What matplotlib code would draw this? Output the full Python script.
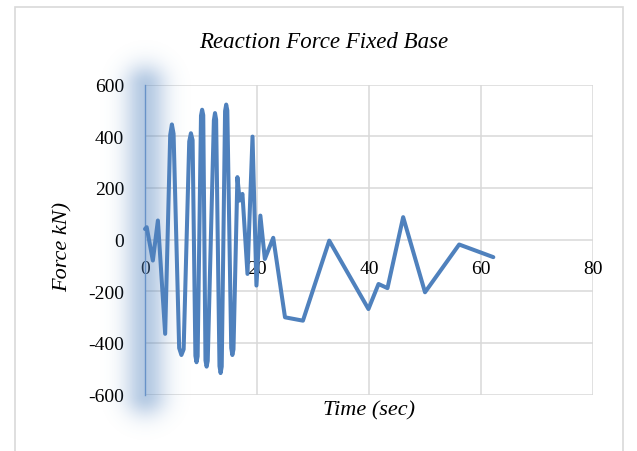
import matplotlib
matplotlib.use('Agg')
import matplotlib.pyplot as plt
import matplotlib.patches as mpatches
import numpy as np

# reaction force history, fixed base model
time_s = [0.0, 0.3, 1.4, 2.3, 3.6,
          4.5, 4.8, 5.1, 6.1, 6.5, 6.9,
          7.9, 8.2, 8.5, 9.0, 9.2, 9.4,
          10.0, 10.2, 10.4, 10.8, 11.0, 11.2,
          12.3, 12.5, 12.7, 13.3, 13.5, 13.7,
          14.3, 14.5, 14.7, 15.4, 15.6, 15.8,
          16.5, 16.9, 17.4, 18.3, 19.2, 19.9, 20.6, 21.4, 22.9,
          25.0, 28.2, 32.9, 39.9, 41.7, 43.3, 46.1, 50.0, 56.1, 62.2]
force_kn = [41, 48, -81, 74, -365,
            405, 446, 410, -420, -447, -425,
            380, 412, 385, -450, -475, -452,
            480, 503, 482, -468, -492, -470,
            462, 490, 465, -490, -517, -492,
            498, 523, 500, -420, -447, -425,
            242, 151, 177, -133, 399, -178, 93, -75, 7,
            -301, -314, -4, -269, -172, -188, 87, -204, -19, -68]

x_ticks = [0, 20, 40, 60, 80]
y_ticks = [-600, -400, -200, 0, 200, 400, 600]

W, H = 637, 452
plt.rcParams['font.family'] = 'Liberation Serif'
plt.rcParams['axes.unicode_minus'] = False
fig = plt.figure(figsize=(W / 100, H / 100), dpi=100)

# chart border
fig.patches.append(mpatches.Rectangle((15 / W, -0.05), (623 - 15) / W, 1.05 - 8 / H,
                                      transform=fig.transFigure, fill=False,
                                      edgecolor='#d9d9d9', linewidth=1.2))

ax_l, ax_r, ax_t, ax_b = 145, 593, 85.7, 395.5
ax = fig.add_axes([ax_l / W, 1 - ax_b / H, (ax_r - ax_l) / W, (ax_b - ax_t) / H])
ax.patch.set_alpha(0)
ax.set_xlim(0, 80)
ax.set_ylim(-600, 600)
ax.set_xticks(x_ticks)
ax.set_yticks(y_ticks)
ax.grid(True, color='#d9d9d9', linewidth=1.1)

for side in ['top', 'right', 'bottom']:
    ax.spines[side].set_visible(False)
ax.spines['left'].set_color('#7a9fd0')
ax.spines['left'].set_linewidth(1.0)

# x labels sit under the zero line
ax.spines['bottom'].set_position(('data', 0))
ax.tick_params(axis='x', length=0, pad=15, labelsize=14)
ax.tick_params(axis='y', length=0, pad=15, labelsize=14)

# soft glow along the vertical axis (pixel image behind the axes)
yy, xx = np.mgrid[0:H, 0:W]
dy = np.clip(yy, ax_t, ax_b) - yy
dist = np.hypot(xx - ax_l, dy)
glow = np.zeros((H, W, 4))
glow[..., 0], glow[..., 1], glow[..., 2] = 79 / 255, 129 / 255, 189 / 255
glow[..., 3] = 0.42 * np.exp(-(dist / 21.0) ** 2)
fig.figimage(glow, 0, 0, origin='upper', zorder=0)

ax.plot(time_s, force_kn, color='#4f81bd', linewidth=2.9, solid_joinstyle='round',
        solid_capstyle='round', zorder=3, clip_on=False)

fig.text(324 / W, 1 - 42 / H, 'Reaction Force Fixed Base', ha='center', va='center',
         fontsize=16.5, style='italic')
fig.text(369 / W, 1 - 411 / H, 'Time (sec)', ha='center', va='center',
         fontsize=16, style='italic')
fig.text(63 / W, 1 - 247 / H, 'Force kN)', ha='center', va='center', rotation=90,
         fontsize=16, style='italic')

fig.savefig('out.png', dpi=100)
